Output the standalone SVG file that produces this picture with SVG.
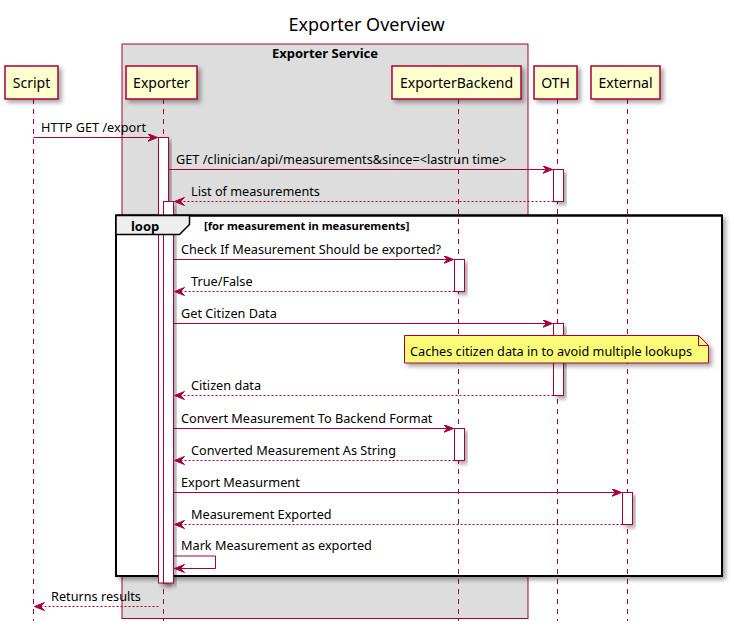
<svg xmlns="http://www.w3.org/2000/svg" width="734" height="630" viewBox="0 0 734 630">
<defs>
<filter id="sh" x="-20%" y="-20%" width="150%" height="150%">
<feDropShadow dx="3" dy="3" stdDeviation="2" flood-color="#000" flood-opacity="0.35"/>
</filter>
<marker id="ah" markerUnits="userSpaceOnUse" markerWidth="12" markerHeight="10" refX="10" refY="4" orient="auto">
<path d="M0,0 L10,4 L0,8 L4,4 Z" fill="#A80036" stroke="#A80036" stroke-width="1"/>
</marker>
</defs>
<style>
text{font-family:"Noto Sans","Open Sans","DejaVu Sans",sans-serif;fill:#000}
.t{font-size:18px}
.p{font-size:14px}
.m{font-size:12.7px}
.b{font-size:13px;font-weight:bold}
.c{font-size:11.2px;font-weight:bold}
.part{fill:#FEFECE;stroke:#A80036;stroke-width:1.5}
.life{stroke:#A80036;stroke-width:1;stroke-dasharray:5,5;fill:none}
.act{fill:#FFFFFF;stroke:#A80036;stroke-width:1}
.msg{stroke:#A80036;stroke-width:1;fill:none;marker-end:url(#ah)}
.ret{stroke:#A80036;stroke-width:1;fill:none;stroke-dasharray:2,2;marker-end:url(#ah)}
</style>
<rect width="734" height="630" fill="#FFFFFF"/>
<text class="t" x="366.5" y="31" text-anchor="middle">Exporter Overview</text>

<g id="box-exporter-service">
<rect x="122" y="44" width="406" height="574.5" fill="#DDDDDD" stroke="#A80036" stroke-width="1"/>
<text class="b" x="325" y="58" text-anchor="middle">Exporter Service</text>
</g>

<g id="loop-frame">
<rect x="116" y="215.5" width="606" height="360.5" fill="#FFFFFF" stroke="#000" stroke-width="2" filter="url(#sh)"/>
</g>

<g id="lifelines">
<line class="life" x1="33.5" y1="99" x2="33.5" y2="621"/>
<line class="life" x1="163.5" y1="99" x2="163.5" y2="621"/>
<line class="life" x1="458.5" y1="99" x2="458.5" y2="621"/>
<line class="life" x1="557.5" y1="99" x2="557.5" y2="621"/>
<line class="life" x1="627.5" y1="99" x2="627.5" y2="621"/>
</g>

<g id="Script">
<rect class="part" x="5" y="66" width="53" height="33" filter="url(#sh)"/>
<text class="p" x="31.5" y="87.5" text-anchor="middle">Script</text>
</g>
<g id="Exporter">
<rect class="part" x="126" y="66" width="71" height="33" filter="url(#sh)"/>
<text class="p" x="161.5" y="87.5" text-anchor="middle">Exporter</text>
</g>
<g id="ExporterBackend">
<rect class="part" x="392" y="66" width="129" height="33" filter="url(#sh)"/>
<text class="p" x="456.5" y="87.5" text-anchor="middle">ExporterBackend</text>
</g>
<g id="OTH">
<rect class="part" x="534" y="66" width="43" height="33" filter="url(#sh)"/>
<text class="p" x="555.5" y="87.5" text-anchor="middle">OTH</text>
</g>
<g id="External">
<rect class="part" x="591" y="66" width="69" height="33" filter="url(#sh)"/>
<text class="p" x="625.5" y="87.5" text-anchor="middle">External</text>
</g>

<g id="activations">
<rect class="act" x="158.5" y="137.5" width="10" height="445.5" filter="url(#sh)"/>
<rect class="act" x="163.5" y="201.5" width="10" height="381.5" filter="url(#sh)"/>
<rect class="act" x="553.5" y="169.5" width="10" height="32" filter="url(#sh)"/>
<rect class="act" x="454.5" y="259.5" width="10" height="32" filter="url(#sh)"/>
<rect class="act" x="553.5" y="323.5" width="10" height="72" filter="url(#sh)"/>
<rect class="act" x="454.5" y="428.5" width="10" height="32" filter="url(#sh)"/>
<rect class="act" x="622.5" y="492.5" width="10" height="32" filter="url(#sh)"/>
</g>

<g id="loop-header">
<line x1="116" y1="215.5" x2="722" y2="215.5" stroke="#000" stroke-width="2"/>
<path d="M116,215.5 L189.5,215.5 L189.5,224.5 L179.5,234.5 L116,234.5 Z" fill="#EEEEEE" stroke="#000" stroke-width="1.5"/>
<text class="b" x="131" y="231">loop</text>
<text class="c" x="204" y="230">[for measurement in measurements]</text>
</g>

<g id="note">
<path d="M404.5,335.5 L698.5,335.5 L708.5,345.5 L708.5,363 L404.5,363 Z" fill="#FBFB77" stroke="#A80036" stroke-width="1" filter="url(#sh)"/>
<path d="M698.5,335.5 L698.5,345.5 L708.5,345.5" fill="none" stroke="#A80036" stroke-width="1"/>
<text class="m" x="410" y="356">Caches citizen data in to avoid multiple lookups</text>
</g>

<g id="connectors">
<line class="msg" x1="33.5" y1="137.5" x2="157.5" y2="137.5"/>
<text class="m" x="41" y="132">HTTP GET /export</text>

<line class="msg" x1="168.5" y1="169.5" x2="552.5" y2="169.5"/>
<text class="m" x="176" y="164">GET /clinician/api/measurements&amp;since=&lt;lastrun time&gt;</text>

<line class="ret" x1="553.5" y1="201.5" x2="174.5" y2="201.5"/>
<text class="m" x="191" y="196">List of measurements</text>

<line class="msg" x1="173.5" y1="259.5" x2="453.5" y2="259.5"/>
<text class="m" x="181" y="254">Check If Measurement Should be exported?</text>

<line class="ret" x1="454.5" y1="291.5" x2="174.5" y2="291.5"/>
<text class="m" x="191" y="286">True/False</text>

<line class="msg" x1="173.5" y1="323.5" x2="552.5" y2="323.5"/>
<text class="m" x="181" y="318">Get Citizen Data</text>

<line class="ret" x1="553.5" y1="395.5" x2="174.5" y2="395.5"/>
<text class="m" x="191" y="390">Citizen data</text>

<line class="msg" x1="173.5" y1="428.5" x2="453.5" y2="428.5"/>
<text class="m" x="181" y="423">Convert Measurement To Backend Format</text>

<line class="ret" x1="454.5" y1="460.5" x2="174.5" y2="460.5"/>
<text class="m" x="191" y="455">Converted Measurement As String</text>

<line class="msg" x1="173.5" y1="492.5" x2="621.5" y2="492.5"/>
<text class="m" x="181" y="487">Export Measurment</text>

<line class="ret" x1="622.5" y1="524.5" x2="174.5" y2="524.5"/>
<text class="m" x="191" y="519">Measurement Exported</text>

<polyline class="msg" points="173.5,556 215.5,556 215.5,568.5 174.5,568.5"/>
<text class="m" x="181" y="550">Mark Measurement as exported</text>

<line class="ret" x1="158.5" y1="606.5" x2="34.5" y2="606.5"/>
<text class="m" x="51" y="601">Returns results</text>
</g>
</svg>
